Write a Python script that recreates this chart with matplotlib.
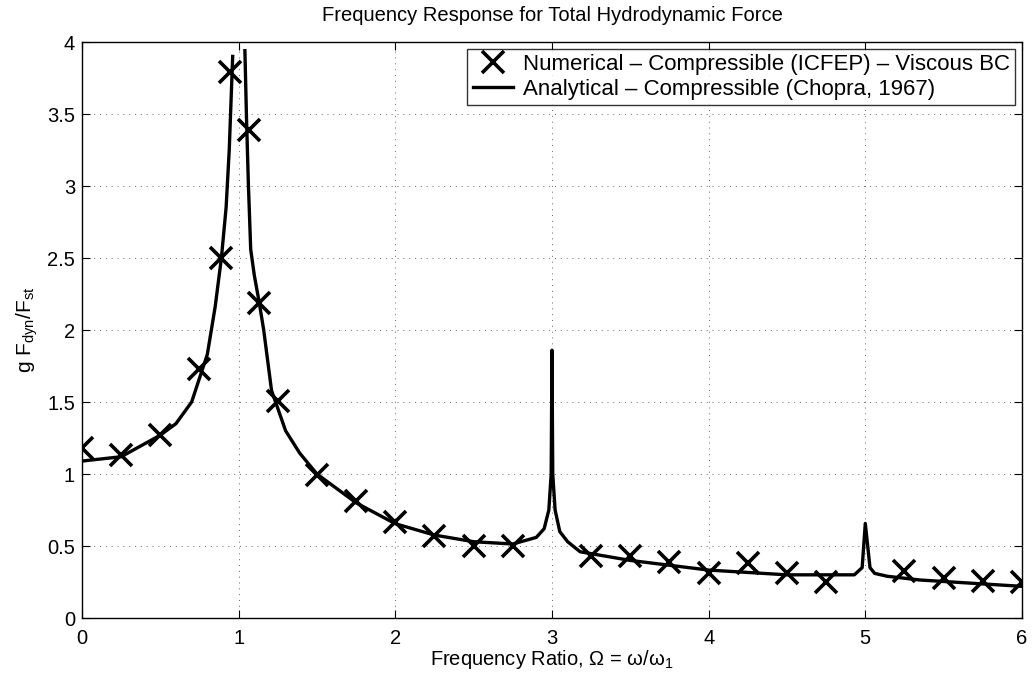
import matplotlib
matplotlib.use("Agg")
import numpy as np
import matplotlib.pyplot as plt

plt.rcParams["font.family"] = ["Liberation Sans", "DejaVu Sans"]
plt.rcParams["mathtext.fontset"] = "custom"
plt.rcParams["mathtext.rm"] = "Liberation Sans"
plt.rcParams["mathtext.it"] = "Liberation Sans"
plt.rcParams["mathtext.default"] = "rm"

# numerical (ICFEP) results
num_ratio = [0.0, 0.25, 0.5, 0.75, 0.89, 0.945, 1.065, 1.128, 1.25, 1.5, 1.75,
             2.0, 2.25, 2.5, 2.75, 3.25, 3.5, 3.75, 4.0, 4.25, 4.5, 4.75,
             5.25, 5.5, 5.75, 6.0]
num_force = [1.18, 1.13, 1.27, 1.73, 2.50, 3.79, 3.39, 2.19, 1.51, 0.99, 0.81,
             0.67, 0.57, 0.50, 0.50, 0.43, 0.43, 0.39, 0.31, 0.38, 0.31, 0.25,
             0.33, 0.28, 0.26, 0.25]

# analytical solution (Chopra, 1967); NaN marks the unbounded resonance
ana_ratio = [0.0, 0.25, 0.5, 0.6, 0.7, 0.8, 0.85, 0.89, 0.92, 0.94, 0.962,
             1.0,
             1.04, 1.05, 1.062, 1.077, 1.1, 1.13, 1.16, 1.21, 1.30, 1.39, 1.5,
             1.75, 2.0, 2.25, 2.5, 2.75, 2.9, 2.95, 2.98, 2.995, 3.0, 3.005,
             3.02, 3.05, 3.1, 3.18, 3.5, 4.0, 4.5, 4.93, 4.98, 5.0, 5.03,
             5.06, 5.14, 5.35, 6.0]
ana_force = [1.09, 1.12, 1.27, 1.35, 1.50, 1.83, 2.16, 2.50, 2.85, 3.25, 3.90,
             np.nan,
             3.94, 3.48, 3.02, 2.56, 2.38, 2.20, 2.00, 1.58, 1.30, 1.145, 1.00,
             0.80, 0.655, 0.576, 0.53, 0.514, 0.56, 0.62, 0.75, 1.00, 1.86,
             1.00, 0.75, 0.60, 0.53, 0.46, 0.40, 0.333, 0.30, 0.30, 0.35,
             0.657, 0.35, 0.31, 0.29, 0.264, 0.22]

fig = plt.figure(figsize=(10.35, 6.82), dpi=100)
ax = fig.add_axes([0.0792, 0.0938, 0.9082, 0.8446])

ax.plot(num_ratio, num_force, linestyle="none", marker="x", color="black",
        markersize=16, markeredgewidth=2.6,
        label="Numerical \u2013 Compressible (ICFEP) \u2013 Viscous BC")
ax.plot(ana_ratio, ana_force, color="black", linewidth=2.4,
        label="Analytical \u2013 Compressible (Chopra, 1967)")

ax.set_xlim(0, 6)
ax.set_ylim(0, 4)
ax.set_xticks(np.arange(0, 7, 1))
ax.set_yticks(np.arange(0, 4.01, 0.5))
ax.set_yticklabels(["0", "0.5", "1", "1.5", "2", "2.5", "3", "3.5", "4"])
ax.tick_params(direction="in", top=True, right=True, length=6, width=0.8,
               labelsize=14.5)
ax.tick_params(axis="x", pad=8)
ax.tick_params(axis="y", pad=5)
ax.grid(True, linestyle=(0, (1, 5)), color="black", linewidth=0.7, alpha=0.6)
for s in ax.spines.values():
    s.set_linewidth(1.0)

ax.set_title("Frequency Response for Total Hydrodynamic Force", fontsize=14.5,
             pad=15)
ax.set_xlabel(r"Frequency Ratio, $\Omega$ = $\omega$/$\omega_1$",
              fontsize=14.5, labelpad=0)
ax.set_ylabel(r"g F$_{dyn}$/F$_{st}$", fontsize=15, labelpad=5)

leg = ax.legend(loc="upper right", fontsize=16, frameon=True,
                fancybox=False, edgecolor="black", borderaxespad=0.3,
                handlelength=1.8, borderpad=0.25, labelspacing=0.15,
                handletextpad=0.45)
leg.get_frame().set_linewidth(1.0)

fig.savefig("out.png", dpi=100)
